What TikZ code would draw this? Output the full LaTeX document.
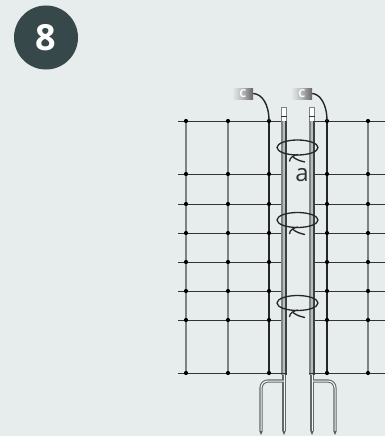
\documentclass[tikz,border=0pt]{standalone}
\usepackage{fontspec}
\setmainfont{Open Sans}
\usepackage{xcolor}
\usetikzlibrary{calc}
\definecolor{bgcol}{HTML}{E6EDEC}
\definecolor{badgecol}{HTML}{37484A}
\definecolor{rodcol}{HTML}{7C8282}
\begin{document}
\begin{tikzpicture}[
    x=1pt, y=-1pt,
    hwire/.style={line width=1pt, black!80},
    vwire/.style={line width=1.3pt, rodcol},
    hotwire/.style={line width=1.4pt, black!85},
    knot/.style={circle, fill=black, inner sep=0pt, minimum size=4.2pt},
    rod/.style={line width=3.2pt, rodcol!80!black},
    rodcore/.style={line width=1pt, white!60!bgcol},
    tie/.style={line width=1.3pt, black!85},
    plug/.style={inner sep=0pt, minimum width=21pt, minimum height=11pt, left color=bgcol, right color=black!60, middle color=black!28}
]
\path[fill=bgcol] (0,0) rectangle (385,436);
\useasboundingbox (0,0) rectangle (385,436);

% number badge
\node[circle, fill=badgecol, minimum size=64pt, inner sep=0pt, text=white, font=\bfseries\fontsize{36}{36}\selectfont] (badge) at (46,37.5) {8};

% fence wires
\foreach \y in {121,174,204,233,262,291,320,373} {
    \draw[hwire] (178,\y) -- (286,\y);
    \draw[hwire] (310,\y) -- (385,\y);
}
\foreach \x in {186,228} \draw[vwire] (\x,121) -- (\x,373);
\draw[vwire] (368,121) -- (368,373);
\draw[hotwire] (269,121) -- (269,373);
\draw[hotwire] (327,121) -- (327,373);
\foreach \x in {186,228,269,327,368}
    \foreach \y in {121,174,204,233,262,291,320,373}
        \node[knot] at (\x,\y) {};

% ground rods
\foreach \xa/\xb in {284/261,312/335} {
    \draw[rod, rounded corners=7pt] (\xa,381) -- (\xb,381) -- (\xb,431);
    \draw[rod] (\xa,375) -- (\xa,431);
    \draw[rodcore, rounded corners=7pt] (\xa,381) -- (\xb,381) -- (\xb,431);
    \draw[rodcore] (\xa,375) -- (\xa,431);
    \fill[rodcol!70!black] (\xa-1.7,431) -- (\xa+1.7,431) -- (\xa,435) -- cycle;
    \fill[rodcol!70!black] (\xb-1.7,431) -- (\xb+1.7,431) -- (\xb,435) -- cycle;
}

% poles
\foreach \x in {284,312} {
    \draw[rodcol, line width=0.8pt, fill=white] (\x-2.6,107) rectangle (\x+2.6,121);
    \draw[hwire] (\x-2.6,116.5) -- (\x+2.6,116.5);
    \fill[rodcol!45!bgcol] (\x-2.6,121) rectangle (\x+2.6,375);
    \draw[rodcol, line width=2pt] (\x-2,121) -- (\x-2,375);
    \draw[rodcol!50!black, line width=1.6pt] (\x+2,121) -- (\x+2,375);
}
\draw[hwire] (279,373) -- (287,373);
\draw[hwire] (309,373) -- (316,373);

% clips with cables
\node[plug] (plugl) at (242.5,93.5) {};
\node[plug] (plugr) at (301.5,93.5) {};
\node[font=\bfseries\fontsize{11}{11}\selectfont, text=white!80!bgcol] at (243,93.5) {C};
\node[font=\bfseries\fontsize{11}{11}\selectfont, text=white!80!bgcol] at (302,93.5) {C};
\draw[hotwire] (plugl.east) .. controls (262,94) and (269,104) .. (269,121);
\draw[hotwire] (plugr.east) .. controls (320,94) and (327,104) .. (327,121);

% ties
\foreach \y in {147.5,220,303} {
    \draw[tie] (297.5,\y) ellipse (20.5pt and 7.5pt);
    \draw[tie] (289.5,\y+14) .. controls (289.5,\y+10) and (294,\y+7.5) .. (298,\y+7);
    \draw[tie] (293,\y+9.5) .. controls (296,\y+12) and (300,\y+13.5) .. (305,\y+14.5);
}

\node[font=\fontsize{24}{24}\selectfont, text=black!80] (lbla) at (302,175) {a};
\end{tikzpicture}
\end{document}
